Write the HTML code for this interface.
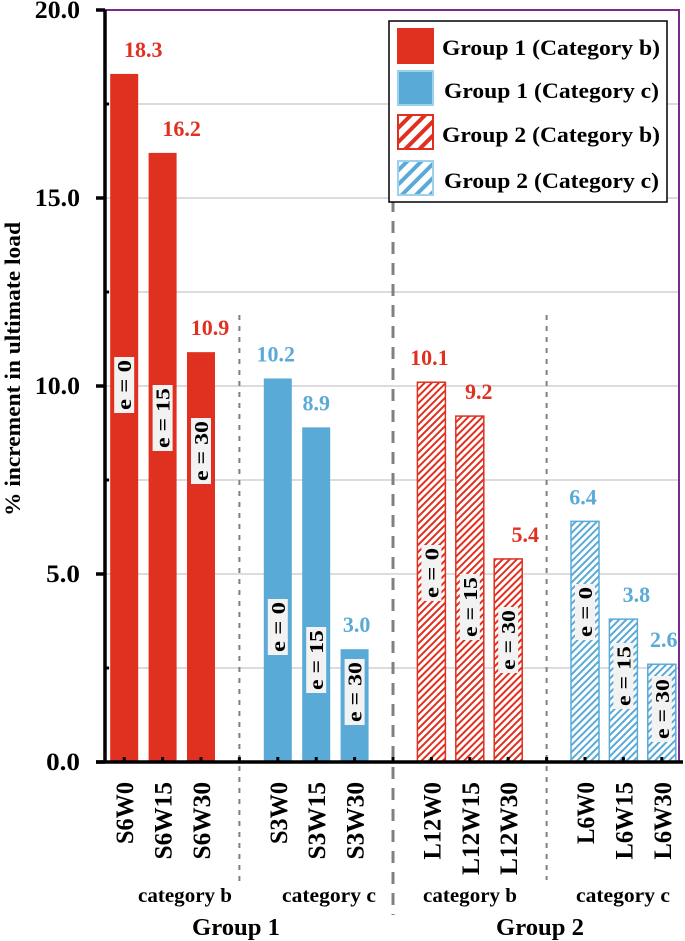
<!DOCTYPE html>
<html><head><meta charset="utf-8"><style>
html,body{margin:0;padding:0;background:#fff;}
svg{display:block;font-family:"Liberation Serif",serif;font-weight:bold;}
</style></head><body>
<svg id="chart" width="685" height="941" viewBox="0 0 685 941" xmlns="http://www.w3.org/2000/svg">
<defs>
<pattern id="hatchRed" patternUnits="userSpaceOnUse" width="5" height="5" patternTransform="rotate(45)"><rect width="5" height="5" fill="#fff"/><rect width="2" height="5" fill="#e03020"/></pattern>
<pattern id="hatchBlue" patternUnits="userSpaceOnUse" width="5" height="5" patternTransform="rotate(45)"><rect width="5" height="5" fill="#fff"/><rect width="2" height="5" fill="#5aaad8"/></pattern>
<pattern id="hatchRedL" patternUnits="userSpaceOnUse" width="10" height="10" patternTransform="rotate(45)"><rect width="10" height="10" fill="#fff"/><rect width="4" height="10" fill="#e03020"/></pattern>
<pattern id="hatchBlueL" patternUnits="userSpaceOnUse" width="10" height="10" patternTransform="rotate(45)"><rect width="10" height="10" fill="#fff"/><rect width="4" height="10" fill="#5aaad8"/></pattern>
</defs>
<g id="grid"></g>
<g id="dividers"></g>
<g id="bars"></g>
<g id="axes"></g>
<text x="0" y="0" transform="translate(20,369) rotate(-90)" text-anchor="middle" font-size="22" textLength="294" lengthAdjust="spacingAndGlyphs">% increment in ultimate load</text>
<text x="185" y="902" text-anchor="middle" font-size="20" textLength="94" lengthAdjust="spacingAndGlyphs">category b</text>
<text x="329" y="902" text-anchor="middle" font-size="20" textLength="94" lengthAdjust="spacingAndGlyphs">category c</text>
<text x="470" y="902" text-anchor="middle" font-size="20" textLength="94" lengthAdjust="spacingAndGlyphs">category b</text>
<text x="623" y="902" text-anchor="middle" font-size="20" textLength="94" lengthAdjust="spacingAndGlyphs">category c</text>
<text x="236" y="935" text-anchor="middle" font-size="24" textLength="88" lengthAdjust="spacingAndGlyphs">Group 1</text>
<text x="540" y="935" text-anchor="middle" font-size="24" textLength="88" lengthAdjust="spacingAndGlyphs">Group 2</text>
<g>
<rect x="389" y="21" width="278" height="181" fill="#fff" stroke="#000" stroke-width="1.5"/>
<g><rect x="397" y="28" width="37" height="36" fill="#e03020"/><text x="442" y="55" font-size="22" textLength="218" lengthAdjust="spacingAndGlyphs">Group 1 (Category b)</text></g>
<g><rect x="398" y="71" width="35" height="34" fill="#5aaad8" stroke="#9bd0ee" stroke-width="2"/><text x="444" y="98" font-size="22" textLength="215" lengthAdjust="spacingAndGlyphs">Group 1 (Category c)</text></g>
<g><rect x="398" y="115" width="35" height="34" fill="url(#hatchRedL)" stroke="#e03020" stroke-width="2"/><text x="442" y="142" font-size="22" textLength="218" lengthAdjust="spacingAndGlyphs">Group 2 (Category b)</text></g>
<g><rect x="398" y="161" width="35" height="34" fill="url(#hatchBlueL)" stroke="#9bd0ee" stroke-width="2"/><text x="444" y="188" font-size="22" textLength="215" lengthAdjust="spacingAndGlyphs">Group 2 (Category c)</text></g>
</g>
</svg>
<script>
const categories = ["S6W0","S6W15","S6W30","S3W0","S3W15","S3W30","L12W0","L12W15","L12W30","L6W0","L6W15","L6W30"];
const values = [18.3,16.2,10.9,10.2,8.9,3.0,10.1,9.2,5.4,6.4,3.8,2.6];
const valueLabels = ["18.3","16.2","10.9","10.2","8.9","3.0","10.1","9.2","5.4","6.4","3.8","2.6"];
const eLabels = ["e = 0","e = 15","e = 30","e = 0","e = 15","e = 30","e = 0","e = 15","e = 30","e = 0","e = 15","e = 30"];
const seriesKind = ["g1b","g1b","g1b","g1c","g1c","g1c","g2b","g2b","g2b","g2c","g2c","g2c"];
const yTicks = [0,5,10,15,20];
const yTickLabels = ["0.0","5.0","10.0","15.0","20.0"];

const NS="http://www.w3.org/2000/svg";
const X0=105, SLOT=38.4, Y0=762, Y1=10, YMAX=20, BW=28;
function y(v){return Y0-(Y0-Y1)*v/YMAX;}
function slotIndex(i){return i+Math.floor(i/3);}
function xc(i){return X0+SLOT*(slotIndex(i)+0.5);}
function mk(tag,attrs,parent){const e=document.createElementNS(NS,tag);for(const k in attrs)e.setAttribute(k,attrs[k]);parent.appendChild(e);return e;}
const grid=document.getElementById('grid'),bars=document.getElementById('bars'),axes=document.getElementById('axes'),div=document.getElementById('dividers');

for(let v=2.5;v<YMAX;v+=2.5){
  const l=mk('line',{x1:X0,x2:679,y1:y(v),y2:y(v),stroke:'#c8c8c8','stroke-width':1.3},grid);
  
  
}
const frame=mk('path',{d:`M${X0} ${Y1} H679 V${Y0}`,fill:'none',stroke:'#7a2a8a','stroke-width':2},grid);



const divs=[[X0+SLOT*3.5,315,885,2,'5,6'],[X0+SLOT*7.5,200,915,3,'12,9'],[X0+SLOT*11.5,315,880,2,'5,6']];
divs.forEach(d=>{
  const l=mk('line',{x1:d[0],x2:d[0],y1:d[1],y2:d[2],stroke:'#808080','stroke-width':d[3],'stroke-dasharray':d[4]},div);
  
  
});

const colors={g1b:'#e03020',g1c:'#5aaad8',g2b:'#e03020',g2c:'#5aaad8'};
const ecy=[385,418,451,627,660,692,573,607,640,612,676,710];
const lblDx=[19,19,9,-2,0,2,-2,9,17,-2,13,2];
categories.forEach((c,i)=>{
  const cx=xc(i),top=y(values[i]),k=seriesKind[i];
  const hatched=k[1]==='2';
  const r=mk('rect',{x:cx-BW/2,y:top,width:BW,height:Y0-top,
    fill:hatched?(k==='g2b'?'url(#hatchRed)':'url(#hatchBlue)'):colors[k],
    stroke:hatched?colors[k]:'none','stroke-width':hatched?1.5:0},bars);
  
  
  const t=mk('text',{x:cx+lblDx[i],y:top-17,'text-anchor':'middle','font-size':22,fill:colors[k]},bars);
  t.textContent=valueLabels[i];
  
  
  const w=eLabels[i].length>5?66:56;
  const cy=Math.min(ecy[i],Y0-w/2-20);
  const g=mk('g',{transform:`translate(${cx},${cy}) rotate(-90)`},bars);
  
  
  mk('rect',{x:-w/2,y:-10,width:w,height:20,fill:'#f2f2f2'},g);
  const et=mk('text',{x:0,y:7,'text-anchor':'middle','font-size':20,textLength:w-6,lengthAdjust:'spacingAndGlyphs',fill:'#000'},g);
  et.textContent=eLabels[i];
  const xl=mk('text',{x:0,y:0,transform:`translate(${cx+9},782) rotate(-90)`,'text-anchor':'end','font-size':25,textLength:c.length*15.5,lengthAdjust:'spacingAndGlyphs'},axes);
  xl.textContent=c;
  
  
  const tk=mk('line',{x1:cx,x2:cx,y1:Y0-5,y2:Y0,stroke:'#000','stroke-width':3},axes);
  
  
});
[3.5,7.5,11.5].forEach(s=>{
  const tk=mk('line',{x1:X0+SLOT*s,x2:X0+SLOT*s,y1:Y0-5,y2:Y0,stroke:'#000','stroke-width':3},axes);
  
  
});
const ya=mk('line',{x1:X0,x2:X0,y1:Y1,y2:Y0+1,stroke:'#000','stroke-width':3.5},axes);


const xa=mk('line',{x1:X0-9,x2:683,y1:Y0,y2:Y0,stroke:'#000','stroke-width':3.5},axes);


for(let v=2.5;v<YMAX;v+=5){
  const m=mk('line',{x1:X0,x2:X0+4,y1:y(v),y2:y(v),stroke:'#000','stroke-width':3},axes);
  
  
}
yTicks.forEach((v,i)=>{
  const m=mk('line',{x1:X0-9,x2:X0,y1:y(v),y2:y(v),stroke:'#000','stroke-width':3.5},axes);
  
  
  const t=mk('text',{x:80,y:y(v)+8,'text-anchor':'end','font-size':25,textLength:yTickLabels[i].length*11.3,lengthAdjust:'spacingAndGlyphs'},axes);
  t.textContent=yTickLabels[i];
  
  
});
</script>
</body></html>
